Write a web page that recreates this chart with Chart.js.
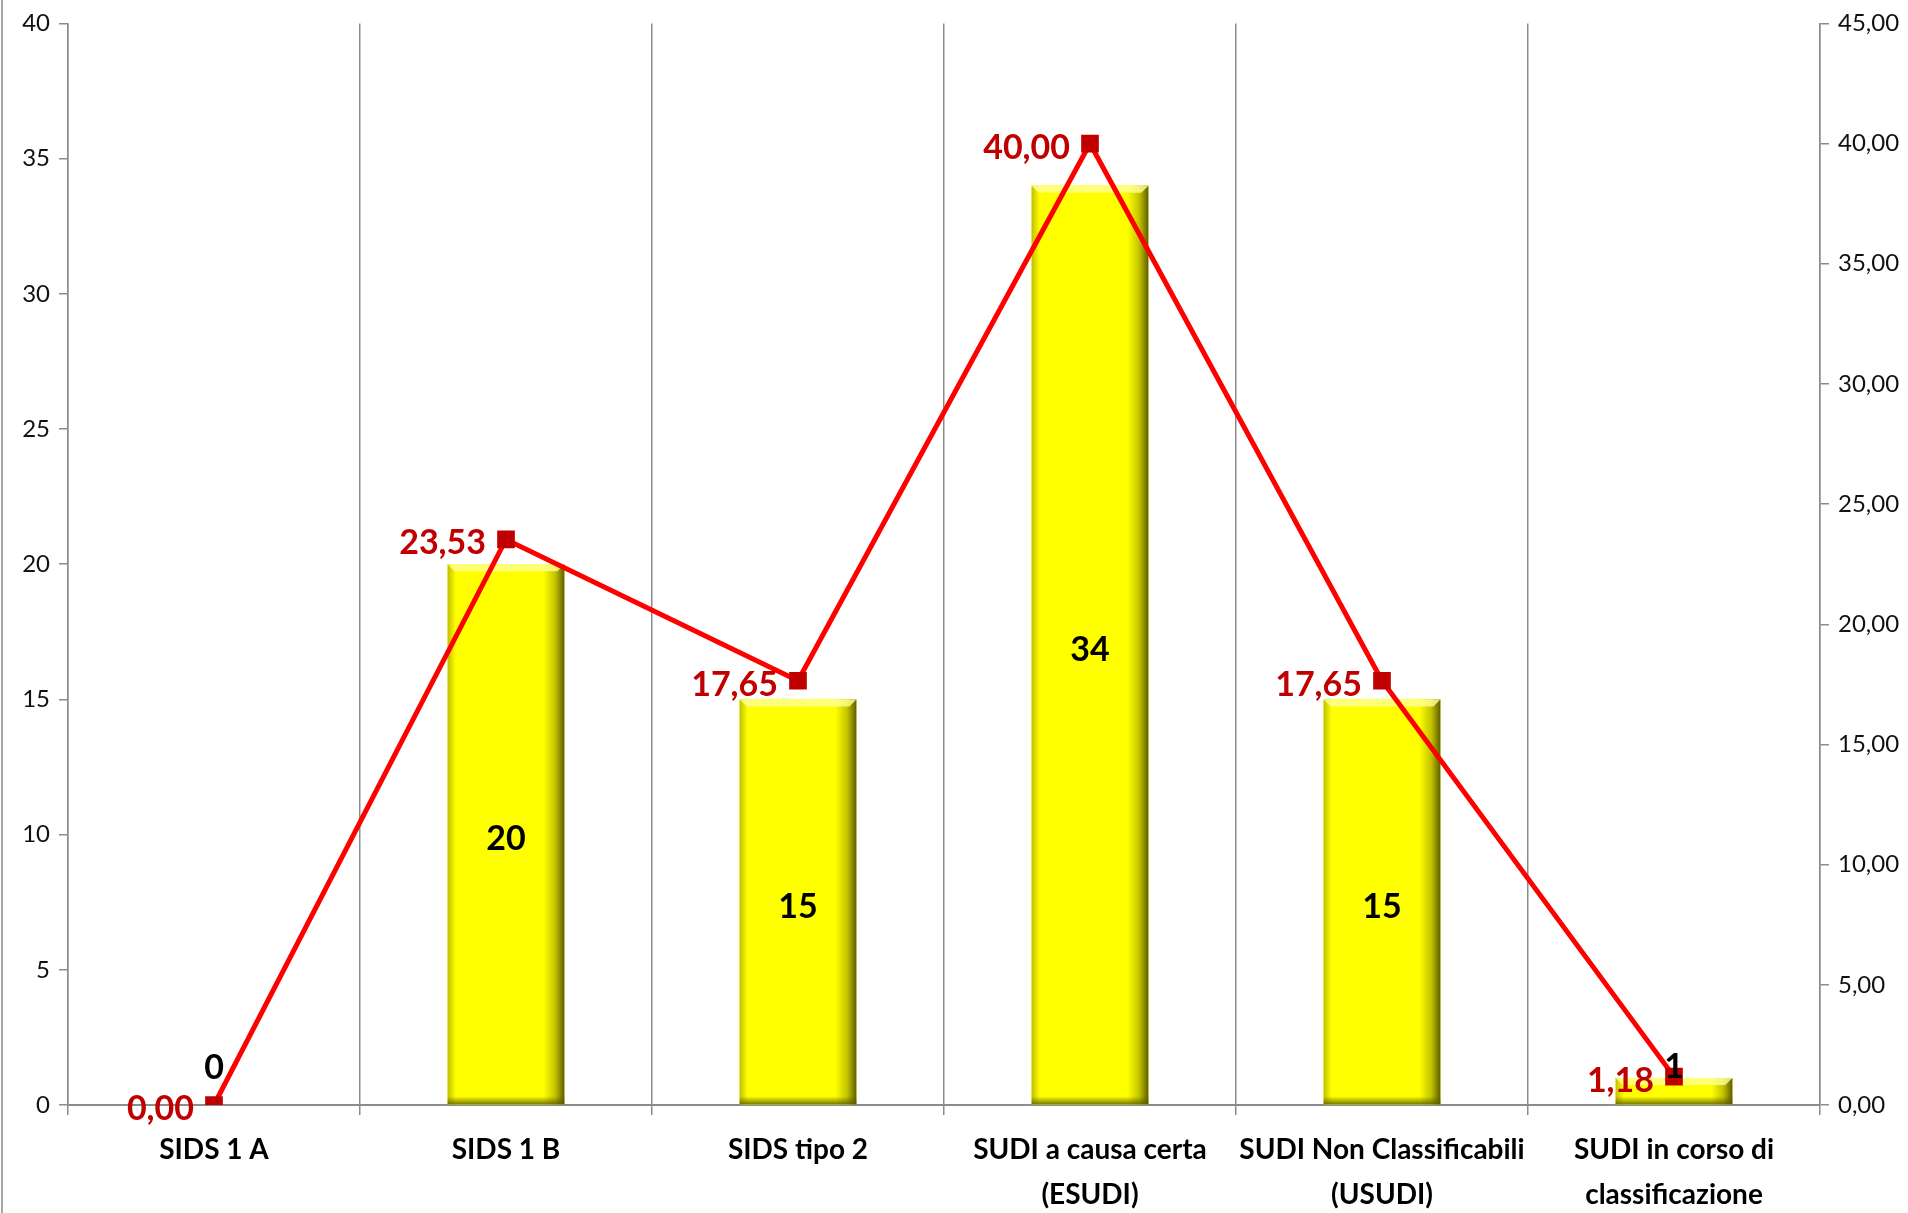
<!DOCTYPE html>
<html>
<head>
<meta charset="utf-8">
<script src="https://cdn.jsdelivr.net/npm/chart.js@4.4.1/dist/chart.umd.min.js"></script>
<style>
  html, body { margin: 0; padding: 0; background: white; }
  #wrap { width: 1908px; height: 1213px; position: relative; }
</style>
</head>
<body>
<div id="wrap"><canvas id="myChart" width="1908" height="1213"></canvas></div>
<script>
// Categories
var categories = [
    'SIDS 1 A',
    'SIDS 1 B',
    'SIDS tipo 2',
    ['SUDI a causa certa', '(ESUDI)'],
    ['SUDI Non Classificabili', '(USUDI)'],
    ['SUDI in corso di', 'classificazione']
]

// Number of cases (bars, left axis)
var caseCounts = [0, 20, 15, 34, 15, 1]

// Percentage (line, right axis)
var casePercent = [0.00, 23.53, 17.65, 40.00, 17.65, 1.18]

// Axis ticks
var leftMax = 40
var rightMax = 45
var tickStep = 5

// Formatting
var gridColor = '#8c8c8c'
var tickColor = '#111111'
var barYellow = '#ffff00'
var lineRed = '#ff0000'
var markerRed = '#c00000'

function commaNumber(v) {
    return v.toFixed(2).replace('.', ',')
}

// left frame line of the chart object
const framePlugin = {
    id: 'frame',
    beforeDraw(chart) {
        const c = chart.ctx
        c.save()
        c.strokeStyle = '#a6a6a6'
        c.lineWidth = 2
        c.beginPath()
        c.moveTo(2, 0)
        c.lineTo(2, chart.height)
        c.stroke()
        c.restore()
    }
}

// fake bevel on the yellow bars
const bevelPlugin = {
    id: 'bevel',
    afterDatasetDraw(chart, args) {
        if (args.index !== 0) return
        const c = chart.ctx
        args.meta.data.forEach(function(bar) {
            const left = bar.x - bar.width / 2
            const right = bar.x + bar.width / 2
            const top = bar.y
            const bottom = bar.base
            const h = bottom - top
            if (h <= 0) return
            c.save()
            // horizontal shading
            var g = c.createLinearGradient(left, 0, right, 0)
            g.addColorStop(0, '#c0c000')
            g.addColorStop(0.07, barYellow)
            g.addColorStop(0.82, barYellow)
            g.addColorStop(0.92, '#c4c400')
            g.addColorStop(1, '#5e5e00')
            c.fillStyle = g
            c.fillRect(left, top, right - left, h)
            // bottom shade
            var bw = Math.min(8, h / 2)
            var gb = c.createLinearGradient(0, bottom - bw, 0, bottom)
            gb.addColorStop(0, 'rgba(90,90,0,0)')
            gb.addColorStop(1, 'rgba(90,90,0,0.8)')
            c.fillStyle = gb
            c.fillRect(left, bottom - bw, right - left, bw)
            // top light bevel
            var tw = Math.min(7, h / 2)
            c.fillStyle = 'rgba(255,255,150,0.8)'
            c.beginPath()
            c.moveTo(left, top)
            c.lineTo(right, top)
            c.lineTo(right - tw, top + tw)
            c.lineTo(left + tw, top + tw)
            c.closePath()
            c.fill()
            c.restore()
        })
    }
}

// value labels for bars and line points
const labelPlugin = {
    id: 'labels',
    afterDatasetsDraw(chart) {
        const c = chart.ctx
        const barMeta = chart.getDatasetMeta(0)
        const lineMeta = chart.getDatasetMeta(1)
        c.save()
        c.textBaseline = 'middle'

        // bar labels
        c.font = 'bold 34px Lato'
        c.fillStyle = '#000000'
        c.textAlign = 'center'
        barMeta.data.forEach(function(bar, i) {
            var mid = (bar.y + bar.base) / 2 + 5
            var y = Math.min(mid, bar.base - 37)
            c.fillText(String(caseCounts[i]), bar.x, y)
        })

        // line labels, left of the markers
        c.font = 'bold 34px Lato'
        c.fillStyle = markerRed
        c.textAlign = 'right'
        lineMeta.data.forEach(function(pt, i) {
            c.fillText(commaNumber(casePercent[i]), pt.x - 20, pt.y + 4)
        })
        c.restore()
    }
}

const ctx = document.getElementById('myChart').getContext('2d')
Chart.defaults.font.family = 'Lato, sans-serif'

const config = {
    type: 'bar',
    data: {
        labels: categories,
        datasets: [{
            type: 'bar',
            data: caseCounts,
            yAxisID: 'y',
            backgroundColor: barYellow,
            borderWidth: 0,
            barPercentage: 0.4,
            categoryPercentage: 1.0,
            order: 1
        }, {
            type: 'line',
            data: casePercent,
            yAxisID: 'y1',
            borderColor: lineRed,
            borderWidth: 5,
            pointStyle: 'rect',
            pointRadius: 12.5,
            pointBackgroundColor: markerRed,
            pointBorderColor: markerRed,
            pointBorderWidth: 0,
            tension: 0,
            fill: false,
            order: 0
        }]
    },
    options: {
        responsive: false,
        animation: false,
        layout: {
            padding: { top: 12, left: 0, right: 0, bottom: 0 }
        },
        plugins: {
            legend: { display: false },
            tooltip: { enabled: false },
            title: { display: false }
        },
        scales: {
            x: {
                grid: {
                    offset: true,
                    color: gridColor,
                    lineWidth: 1.5,
                    drawOnChartArea: true,
                    drawTicks: true,
                    tickLength: 10
                },
                border: { color: gridColor, width: 2 },
                ticks: {
                    color: '#000000',
                    font: { size: 28, weight: 'bold', lineHeight: 1.6 },
                    padding: 13,
                    maxRotation: 0,
                    autoSkip: false
                },
                afterFit: function(scale) { scale.height = 108 }
            },
            y: {
                position: 'left',
                min: 0,
                max: leftMax,
                ticks: {
                    stepSize: tickStep,
                    color: tickColor,
                    font: { size: 24 },
                    padding: 9
                },
                grid: {
                    drawOnChartArea: false,
                    color: gridColor,
                    lineWidth: 1.5,
                    tickLength: 9
                },
                border: { color: gridColor, width: 1.5 },
                afterFit: function(scale) { scale.width = 68 }
            },
            y1: {
                position: 'right',
                min: 0,
                max: rightMax,
                ticks: {
                    stepSize: tickStep,
                    color: tickColor,
                    font: { size: 24 },
                    padding: 9,
                    callback: function(value) { return commaNumber(value) }
                },
                grid: {
                    drawOnChartArea: false,
                    color: gridColor,
                    lineWidth: 1.5,
                    tickLength: 9
                },
                border: { color: gridColor, width: 1.5 },
                afterFit: function(scale) { scale.width = 88 }
            }
        }
    },
    plugins: [framePlugin, bevelPlugin, labelPlugin]
}

const myChart = new Chart(ctx, config)
</script>
</body>
</html>
